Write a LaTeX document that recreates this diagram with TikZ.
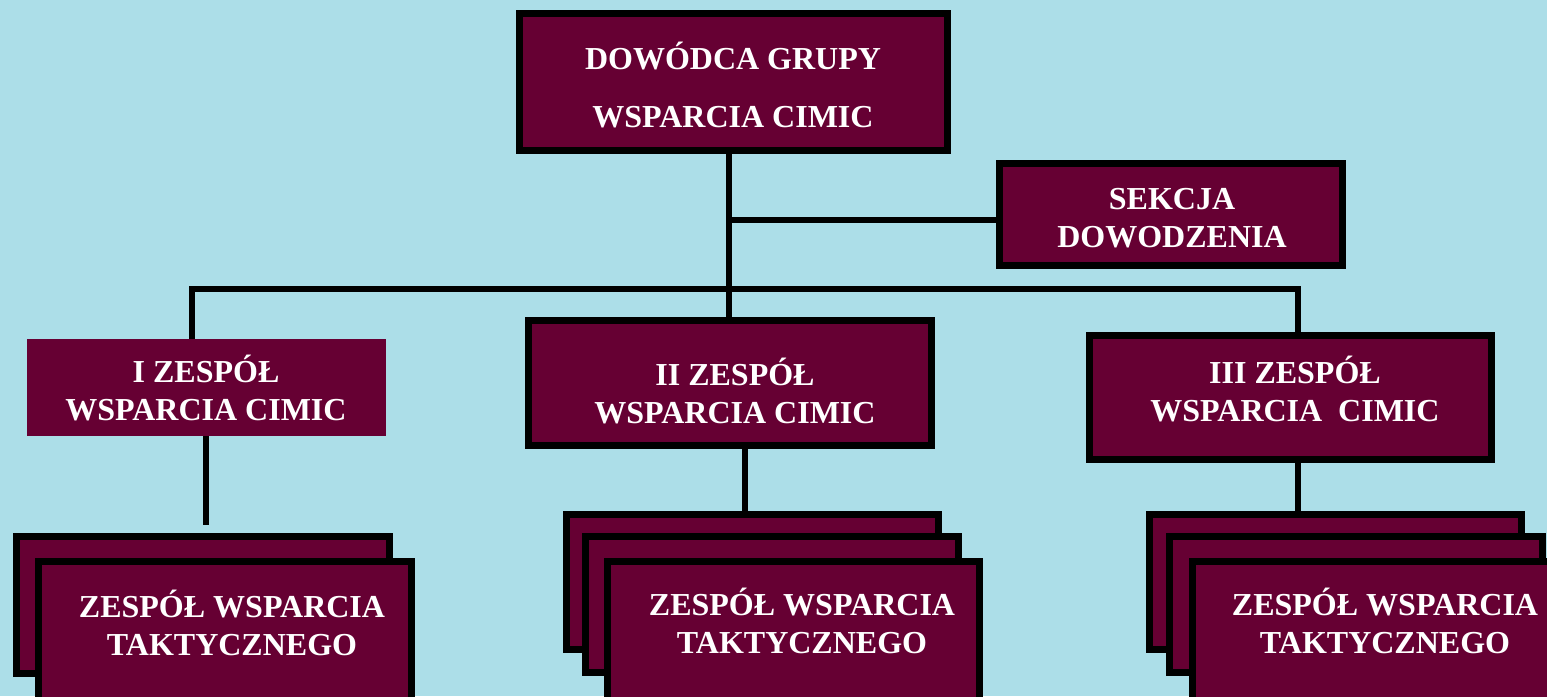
\documentclass[tikz,border=0pt]{standalone}
\usepackage{fontspec}
\setmainfont{Liberation Serif}
\usetikzlibrary{backgrounds}
\definecolor{bgcyan}{RGB}{172,222,232}
\definecolor{maroon}{RGB}{102,0,51}
\tikzset{
  box/.style={rectangle, draw=black, line width=7pt, fill=maroon, inner sep=0pt},
  plainbox/.style={rectangle, fill=maroon, inner sep=0pt},
  txt/.style={text=white, font=\fontsize{32}{38}\selectfont\bfseries, align=center, inner sep=0pt},
  conn/.style={draw=black, line width=6pt}
}
\begin{document}
\begin{tikzpicture}[x=1pt, y=-1pt]
\useasboundingbox (0,0) rectangle (1547,696);
\clip (0,0) rectangle (1547,696);

% boxes
\node[box, minimum width=428pt, minimum height=137pt] (top) at (733.5,82) {};
\node[box, minimum width=343pt, minimum height=102pt] (sek) at (1171,214.5) {};
\node[plainbox, minimum width=359pt, minimum height=97pt] (z1) at (206.5,387.5) {};
\node[box, minimum width=403pt, minimum height=125pt] (z2) at (730,383) {};
\node[box, minimum width=402pt, minimum height=124pt] (z3) at (1290.5,397.5) {};

% stacks
\node[box, minimum width=373pt, minimum height=137pt] (t1a) at (203,605) {};
\node[box, minimum width=373pt, minimum height=150pt] (t1b) at (225,636) {};

\node[box, minimum width=372pt, minimum height=135pt] (t2a) at (752.5,582) {};
\node[box, minimum width=373pt, minimum height=136pt] (t2b) at (772,604.5) {};
\node[box, minimum width=372pt, minimum height=150pt] (t2c) at (793.5,636) {};

\node[box, minimum width=372pt, minimum height=135pt] (t3a) at (1335.5,582) {};
\node[box, minimum width=373pt, minimum height=136pt] (t3b) at (1356,604.5) {};
\node[box, minimum width=372pt, minimum height=150pt] (t3c) at (1378,636) {};

% coordinates for connector bends
\coordinate (busL) at (192,289);
\coordinate (busR) at (1298,289);
\coordinate (sekJ) at (729,220);
\coordinate (z1down) at (206,525);
\coordinate (x2) at (745,0);
\coordinate (x3) at (1298,0);

% background and connectors beneath the boxes
\begin{scope}[on background layer]
\fill[bgcyan] (0,0) rectangle (1547,696);
\draw[conn] (top.south -| sekJ) -- (z2.north -| sekJ);
\draw[conn] (sekJ) -- (sek.west |- sekJ);
\draw[conn] (z1.north -| busL) -- (busL) -- (busR) -- (z3.north -| busR);
\draw[conn] (z1.south -| z1down) -- (z1down);
\draw[conn] (z2.south -| x2) -- (t2a.north -| x2);
\draw[conn] (z3.south -| x3) -- (t3a.north -| x3);
\end{scope}

% texts
\node[txt] (topT) at (733,85) {DOWÓDCA GRUPY\\[20pt]WSPARCIA CIMIC};
\node[txt] (sekT) at (1172,218) {SEKCJA\\DOWODZENIA};
\node[txt] (z1T) at (206,388) {I ZESPÓŁ\\WSPARCIA CIMIC};
\node[txt] (z2T) at (735,391) {II ZESPÓŁ\\WSPARCIA CIMIC};
\node[txt] (z3T) at (1295,389) {III ZESPÓŁ\\WSPARCIA\ \ CIMIC};
\node[txt] (t1T) at (232,623) {ZESPÓŁ WSPARCIA\\TAKTYCZNEGO};
\node[txt] (t2T) at (802,621) {ZESPÓŁ WSPARCIA\\TAKTYCZNEGO};
\node[txt] (t3T) at (1385,621) {ZESPÓŁ WSPARCIA\\TAKTYCZNEGO};
\end{tikzpicture}
\end{document}
